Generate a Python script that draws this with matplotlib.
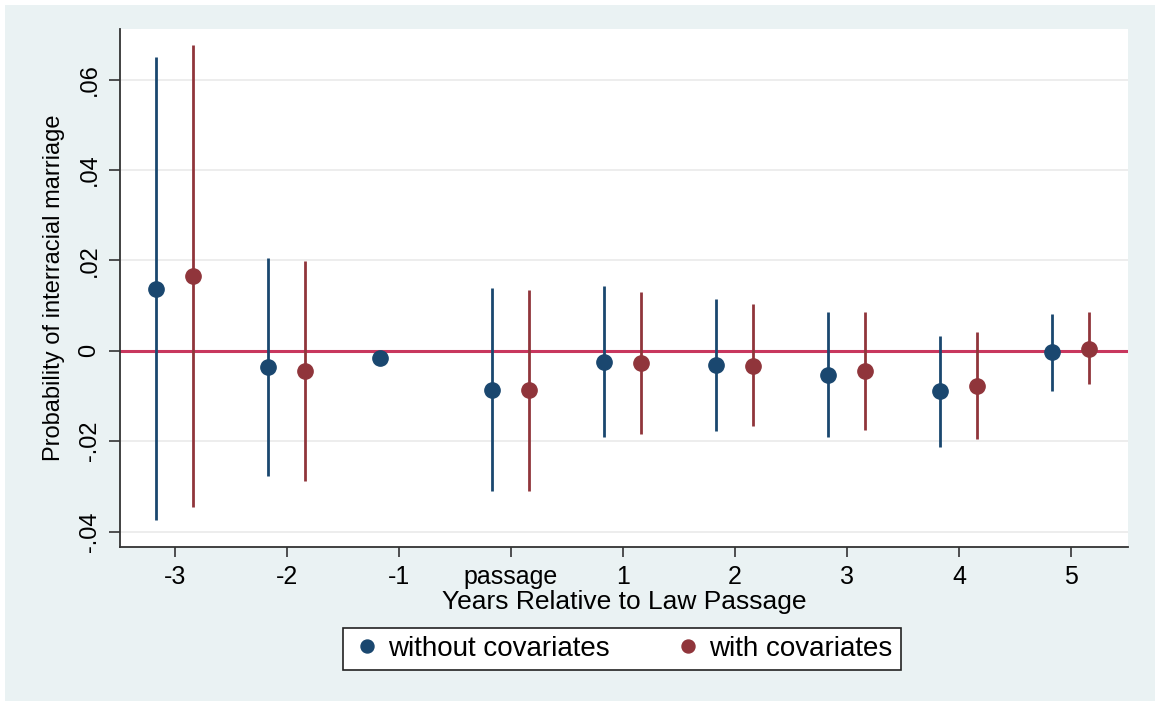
import numpy as np
import matplotlib.pyplot as plt
from matplotlib.patches import Rectangle

# Datos: estimación puntual e intervalo de confianza
periodos = [-3, -2, -1, 0, 1, 2, 3, 4, 5]
etiquetas = ['-3', '-2', '-1', 'passage', '1', '2', '3', '4', '5']

# sin covariables (el año -1 es la referencia: sin intervalo)
sin_est = [0.0137, -0.0035, -0.0016, -0.0086, -0.0025, -0.0031, -0.0053, -0.0088, -0.0002]
sin_lo = [-0.0374, -0.0276, np.nan, -0.0311, -0.0190, -0.0177, -0.0190, -0.0212, -0.0088]
sin_hi = [0.0650, 0.0206, np.nan, 0.0140, 0.0143, 0.0114, 0.0086, 0.0033, 0.0082]

# con covariables (sin valor en el año -1)
con_est = [0.0166, -0.0044, np.nan, -0.0086, -0.0027, -0.0033, -0.0044, -0.0077, 0.0005]
con_lo = [-0.0345, -0.0287, np.nan, -0.0310, -0.0183, -0.0167, -0.0176, -0.0195, -0.0073]
con_hi = [0.0677, 0.0199, np.nan, 0.0135, 0.0130, 0.0104, 0.0086, 0.0042, 0.0085]

azul = '#1a476f'
rojo = '#90353b'
fondo = '#eaf2f3'
desp = 0.165

plt.rcParams['font.family'] = ['Liberation Sans', 'DejaVu Sans']

fig = plt.figure(figsize=(11.55, 7.01), dpi=100)
fig.patches.append(Rectangle((5 / 1155, 0), 1, 1 - 5 / 701, transform=fig.transFigure,
                             facecolor=fondo, edgecolor='none', zorder=-10))
ax = fig.add_axes([120 / 1155, 1 - 547 / 701, 1008 / 1155, 518 / 701])
ax.set_facecolor('white')

x = np.array(periodos, dtype=float)
ax.axhline(0, color='#c8375e', lw=2.2, zorder=2)
ax.vlines(x - desp, sin_lo, sin_hi, color=azul, lw=2.0, zorder=3)
ax.vlines(x + desp, con_lo, con_hi, color=rojo, lw=2.0, zorder=3)
ax.plot(x - desp, sin_est, 'o', color=azul, ms=11, zorder=4, label='without covariates')
ax.plot(x + desp, con_est, 'o', color=rojo, ms=11, zorder=4, label='with covariates')

ax.set_xlim(-3.49, 5.51)
ax.set_ylim(-0.0434, 0.0712)
ax.set_xticks(periodos)
ax.set_xticklabels(etiquetas)
yt = [-0.04, -0.02, 0, 0.02, 0.04, 0.06]
ax.set_yticks(yt)
ax.set_yticklabels(['-.04', '-.02', '0', '.02', '.04', '.06'], rotation=90, va='center')
ax.grid(axis='y', color='#ececec', lw=1.3)
ax.set_axisbelow(True)

for s in ['top', 'right']:
    ax.spines[s].set_visible(False)
for s in ['left', 'bottom']:
    ax.spines[s].set_color('#333333')
    ax.spines[s].set_linewidth(1.3)
ax.tick_params(axis='x', length=7, width=1.2, color='#333333', labelsize=18, pad=6)
ax.tick_params(axis='y', length=8, width=1.2, color='#333333', labelsize=17, pad=6)

ax.set_xlabel('Years Relative to Law Passage', fontsize=19, labelpad=1)
ax.set_ylabel('Probability of interracial marriage', fontsize=17, labelpad=10)

leg = fig.legend(loc='center', bbox_to_anchor=(622 / 1155, 1 - 649 / 701), ncol=2,
                 fontsize=20, fancybox=False, edgecolor='#222222', framealpha=1,
                 handletextpad=0.2, columnspacing=2.3, handlelength=1.1,
                 borderpad=0.3, markerscale=0.85)
leg.get_frame().set_linewidth(1.2)

fig.savefig('out.png', dpi=100, facecolor='white')
